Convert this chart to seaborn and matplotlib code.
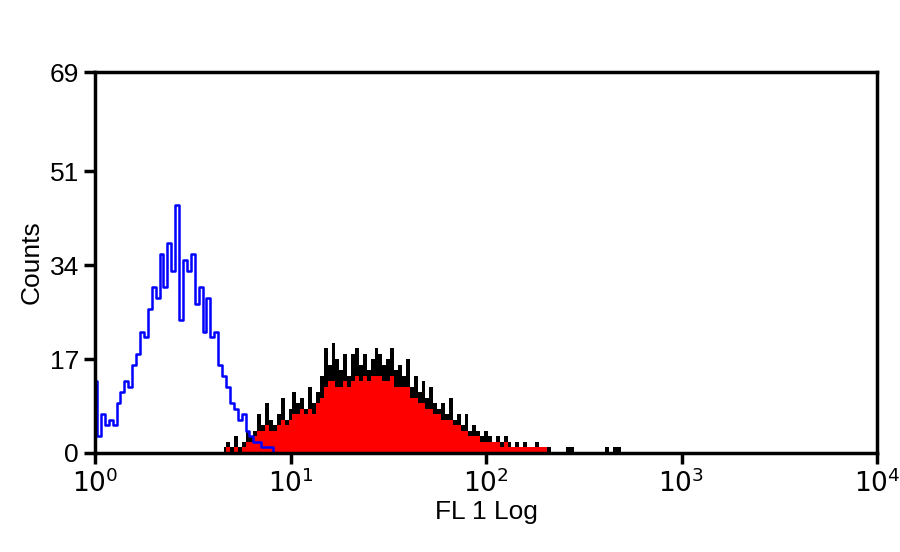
import numpy as np
import matplotlib
matplotlib.use("Agg")
import matplotlib.pyplot as plt
import seaborn as sns

sns.set_style("white")
plt.rcParams['font.family'] = ['Liberation Sans', 'DejaVu Sans']

blue_log = [0.00,0.02,0.04,0.06,0.08,0.10,0.12,0.14,0.16,0.18,0.20,0.22,0.24,0.26,0.28,0.30,0.32,0.34,0.36,0.38,0.40,0.42,0.44,0.46,0.48,0.50,0.52,0.54,0.56,0.58,0.60,0.62,0.64,0.66,0.68,0.70,0.72,0.74,0.76,0.78,0.80,0.82,0.84,0.86,0.88,0.90,0.92]
blue_counts = [13,3,7,5,6,5,9,11,13,12,16,18,22,21,26,30,28,36,30,38,33,45,24,35,33,36,27,30,22,28,21,22,16,14,12,9,8,6,7,4,3,2,2,1,1,1,0]

fill_log = [0.66,0.68,0.70,0.72,0.74,0.76,0.78,0.80,0.82,0.84,0.86,0.88,0.90,0.92,0.94,0.96,0.98,1.00,1.02,1.04,1.06,1.08,1.10,1.12,1.14,1.16,1.18,1.20,1.22,1.24,1.26,1.28,1.30,1.32,1.34,1.36,1.38,1.40,1.42,1.44,1.46,1.48,1.50,1.52,1.54,1.56,1.58,1.60,1.62,1.64,1.66,1.68,1.70,1.72,1.74,1.76,1.78,1.80,1.82,1.84,1.86,1.88,1.90,1.92,1.94,1.96,1.98,2.00,2.02,2.04,2.06,2.08,2.10,2.12,2.14,2.16,2.18,2.20,2.22,2.24,2.26,2.28,2.30,2.32,2.34]
black_counts = [1,2,1,3,1,2,4,3,4,7,5,9,6,5,7,10,6,8,11,9,10,8,12,9,11,14,19,16,20,17,15,18,14,18,19,16,18,15,17,19,18,16,17,19,15,16,14,17,12,14,11,13,10,12,9,8,9,7,10,6,7,5,7,4,5,4,3,4,3,2,3,2,3,2,1,2,1,2,1,1,2,1,1,1,0]
red_counts = [0,1,0,1,0,1,2,2,3,4,4,5,4,4,5,6,5,6,7,7,8,7,8,7,9,10,12,13,13,12,12,13,12,13,14,13,14,13,14,14,14,13,13,14,12,12,12,12,10,10,9,9,8,8,7,7,6,6,6,5,5,4,4,3,3,3,2,2,2,2,2,1,2,1,1,1,1,1,1,1,1,1,1,0,0]

far_log = [2.40,2.42,2.44,2.46,2.48,2.50,2.60,2.62,2.64,2.66,2.68,2.70,2.72]
far_counts = [0,1,1,0,0,0,0,1,0,1,1,0,0]

fig = plt.figure(figsize=(9, 5.52), dpi=100)
ax = fig.add_axes([95/900, 1-453/552, 782/900, 381/552])

fx = 10 ** np.array(fill_log)
ax.fill_between(fx, black_counts, step="mid", color="black", lw=0)
ax.fill_between(fx, red_counts, step="mid", color="red", lw=0)
gx = 10 ** np.array(far_log)
ax.fill_between(gx, far_counts, step="mid", color="black", lw=0)
sns.lineplot(x=10 ** np.array(blue_log), y=blue_counts, ax=ax, color="blue",
             lw=1.8, drawstyle="steps-mid")

ax.set_xscale("log")
ax.set_xlim(1, 1e4)
ax.set_ylim(0, 69)
ax.set_xticks([1, 10, 100, 1000, 10000])
ax.set_xticklabels([r"$10^0$", r"$10^1$", r"$10^2$", r"$10^3$", r"$10^4$"])
ax.xaxis.set_minor_locator(matplotlib.ticker.NullLocator())
ax.set_yticks([0, 17, 34, 51, 69])
ax.set_yticklabels(["0", "17", "34", "51", "69"])
for s in ax.spines.values():
    s.set_visible(True)
    s.set_color("black")
    s.set_linewidth(2.5)
ax.tick_params(axis="both", direction="out", length=8, width=2.5, labelsize=19,
               bottom=True, left=True, colors="black")
ax.set_xlabel("FL 1 Log", fontsize=19, labelpad=2, color="black")
ax.set_ylabel("Counts", fontsize=19, labelpad=4, color="black")
fig.savefig("out.png", dpi=100)
